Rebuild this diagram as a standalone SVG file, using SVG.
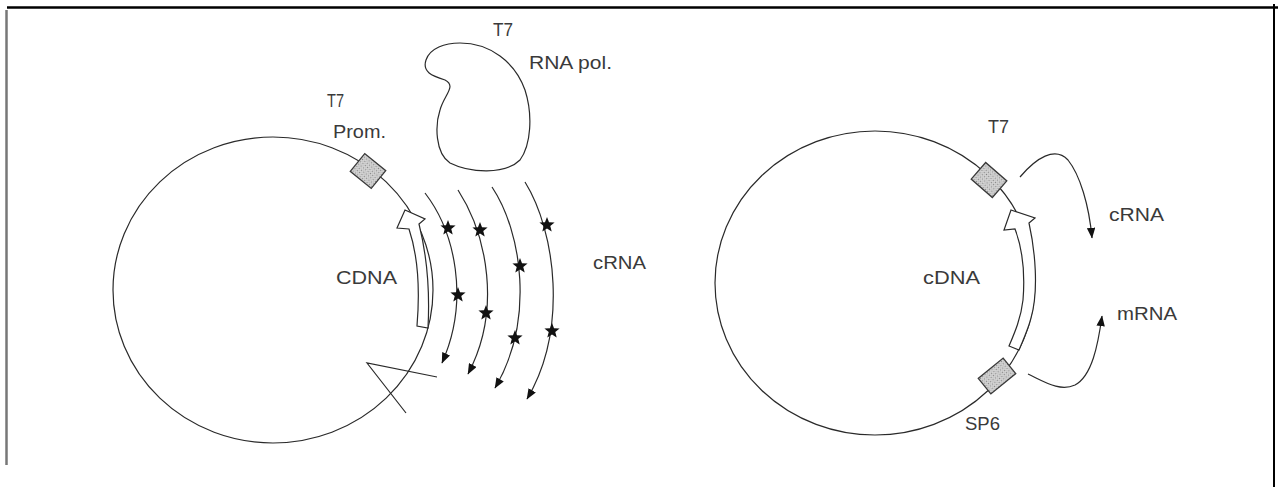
<svg xmlns="http://www.w3.org/2000/svg" xmlns:xlink="http://www.w3.org/1999/xlink" width="1281" height="487" viewBox="0 0 1281 487">
<style>
  .ln { fill: none; stroke: #2a2a2a; stroke-width: 1.2; }
  .hollow { fill: #ffffff; stroke: #2a2a2a; stroke-width: 1.2; stroke-linejoin: miter; }
  .box { fill: url(#stip); stroke: #3a3a3a; stroke-width: 1.3; }
  .lbl { font-family: "Liberation Sans", Arial, sans-serif; font-size: 18px; fill: #3a3a3a; }
  .arc { fill: none; stroke: #2a2a2a; stroke-width: 1.2; marker-end: url(#ah); }
  .star { fill: #111111; }
</style>
<defs>
  <pattern id="stip" width="3" height="3" patternUnits="userSpaceOnUse">
    <rect width="3" height="3" fill="#d6d6d6"/>
    <rect x="0" y="0" width="1" height="1" fill="#808080"/>
    <rect x="1.5" y="1.5" width="1" height="1" fill="#9a9a9a"/>
  </pattern>
  <marker id="ah" viewBox="0 0 10 8" refX="9.5" refY="4" markerWidth="11" markerHeight="8.5" markerUnits="userSpaceOnUse" orient="auto">
    <path d="M0,0 L10,4 L0,8 Z" fill="#111111"/>
  </marker>
  <path id="star" d="M0,-8 L2.03,-2.8 L7.61,-2.47 L3.27,1.07 L4.7,6.47 L0,3.45 L-4.7,6.47 L-3.27,1.07 L-7.61,-2.47 L-2.03,-2.8 Z"/>
</defs>

<g id="frame">
  <line x1="7" y1="7.5" x2="1278" y2="7.5" stroke="#000000" stroke-width="2.5"/>
  <line x1="6.5" y1="10" x2="6.5" y2="465" stroke="#777777" stroke-width="2.5"/>
  <line x1="1274" y1="4" x2="1274" y2="487" stroke="#000000" stroke-width="2"/>
</g>

<g id="left-plasmid">
  <ellipse cx="273" cy="290" rx="160" ry="153" class="ln"/>
  <text class="lbl" x="336" y="284" textLength="61" lengthAdjust="spacingAndGlyphs">CDNA</text>
</g>

<g id="left-t7-promoter">
  <rect class="box" x="-13.5" y="-11.5" width="27" height="23" transform="translate(368,171) rotate(39)"/>
  <text class="lbl" x="327" y="107" textLength="17" lengthAdjust="spacingAndGlyphs">T7</text>
  <text class="lbl" x="333" y="138" textLength="53" lengthAdjust="spacingAndGlyphs">Prom.</text>
</g>

<g id="left-cdna-arrow">
  <path class="hollow" d="M405,210 L425,219 L419,224 C426,252 430,290 428,328 L417,326 C420,290 418,256 409,229 L397,228 Z"/>
</g>

<g id="cut-site">
  <polyline class="ln" points="437,377 367,363 406,413"/>
</g>

<g id="t7-rna-pol">
  <path class="ln" d="M460,43 C490,43 515,62 525,90 C533,115 531,145 520,160 C505,175 470,173 450,163 C435,153 435,125 440,110 C444,95 457,86 445,80 C432,76 422,72 426,60 C430,48 445,43 460,43 Z"/>
  <text class="lbl" x="493" y="36" textLength="20" lengthAdjust="spacingAndGlyphs">T7</text>
  <text class="lbl" x="529" y="69" textLength="83" lengthAdjust="spacingAndGlyphs">RNA pol.</text>
</g>

<g id="connectors">
  <path class="arc" d="M425,193 C455,232 470,300 442,363"/>
  <path class="arc" d="M458,190 C487,235 502,310 468,374"/>
  <path class="arc" d="M492,187 C522,232 535,320 495,388"/>
  <path class="arc" d="M525,182 C556,232 568,330 527,399"/>
  <path class="arc" d="M1020,177 C1036,158 1055,146 1068,160 C1080,175 1089,205 1092,238"/>
  <path class="arc" d="M1028,374 C1045,382 1060,392 1075,385 C1092,376 1098,345 1102,316"/>
</g>

<g id="crna-stars">
  <use xlink:href="#star" class="star" x="448" y="228"/>
  <use xlink:href="#star" class="star" x="458" y="295"/>
  <use xlink:href="#star" class="star" x="480" y="230"/>
  <use xlink:href="#star" class="star" x="486" y="313"/>
  <use xlink:href="#star" class="star" x="520" y="266"/>
  <use xlink:href="#star" class="star" x="515" y="338"/>
  <use xlink:href="#star" class="star" x="547" y="225"/>
  <use xlink:href="#star" class="star" x="552" y="331"/>
  <text class="lbl" x="593" y="269" textLength="53" lengthAdjust="spacingAndGlyphs">cRNA</text>
</g>

<g id="right-plasmid">
  <ellipse cx="875" cy="283" rx="160" ry="152" class="ln"/>
  <text class="lbl" x="923" y="284" textLength="57" lengthAdjust="spacingAndGlyphs">cDNA</text>
</g>

<g id="right-cdna-arrow">
  <path class="hollow" d="M1011,210 L1035,218 L1029,223 C1035,250 1039,290 1031,318 C1028,330 1023,340 1019,350 L1009,346 C1015,332 1021,318 1023,300 C1025,275 1023,250 1015,229 L1004,230 Z"/>
</g>

<g id="right-t7">
  <rect class="box" x="-14" y="-11" width="28" height="22" transform="translate(989,180) rotate(41)"/>
  <text class="lbl" x="988" y="133" textLength="21" lengthAdjust="spacingAndGlyphs">T7</text>
</g>

<g id="right-sp6">
  <rect class="box" x="-16" y="-10" width="32" height="20" transform="translate(997,376) rotate(-39)"/>
  <text class="lbl" x="965" y="430" textLength="35" lengthAdjust="spacingAndGlyphs">SP6</text>
</g>

<g id="right-labels">
  <text class="lbl" x="1109" y="221" textLength="55" lengthAdjust="spacingAndGlyphs">cRNA</text>
  <text class="lbl" x="1117" y="320" textLength="60" lengthAdjust="spacingAndGlyphs">mRNA</text>
</g>
</svg>
